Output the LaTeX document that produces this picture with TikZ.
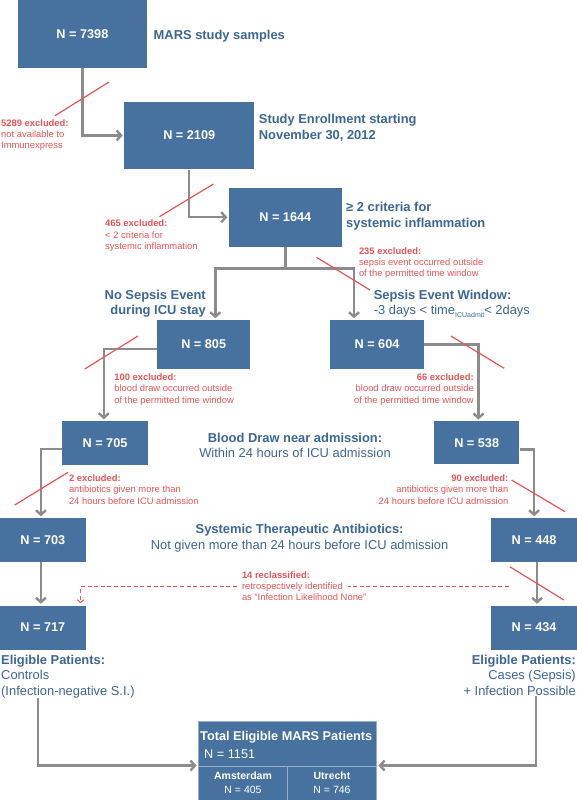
\documentclass[tikz,border=0pt]{standalone}
\usepackage{fontspec}
\setmainfont{Liberation Sans}
\usetikzlibrary{arrows.meta,calc}
\definecolor{boxblue}{RGB}{71,114,160}
\definecolor{txtblue}{RGB}{60,102,150}
\definecolor{exred}{RGB}{234,84,86}
\definecolor{lnGray}{RGB}{140,140,140}
\definecolor{edgeblue}{RGB}{150,175,205}
\begin{document}
\begin{tikzpicture}[x=1pt,y=-1pt,
  box/.style={fill=boxblue, text=white,
    font=\fontsize{12.7}{14}\selectfont\bfseries, inner sep=0pt, anchor=center},
  cell/.style={fill=boxblue, draw=edgeblue, line width=0.9pt, text=white, inner sep=0pt, anchor=center},
  arr/.style={draw=lnGray, line width=2.4pt, -{Straight Barb[length=4.5pt,width=10pt]}, shorten >=1.5pt},
  plainln/.style={draw=lnGray, line width=2.4pt},
  exnote/.style={text=exred, font=\fontsize{9.4}{11.3}\selectfont, inner sep=0pt},
  lbl/.style={text=txtblue, font=\fontsize{12.9}{15.7}\selectfont, inner sep=0pt},
  lblb/.style={text=txtblue, font=\fontsize{12.9}{15.7}\selectfont\bfseries, inner sep=0pt},
  slash/.style={draw=exred, line width=1.2pt},
  dashln/.style={draw=exred, line width=1pt, dash pattern=on 4pt off 2.6pt}
]
\useasboundingbox (0,0) rectangle (577,800);

% boxes
\node[box, minimum width=129.8pt, minimum height=67.7pt] (b7398) at (82.4,33.8) {N = 7398};
\node[box, minimum width=129.6pt, minimum height=67.6pt] (b2109) at (189.2,135.5) {N = 2109};
\node[box, minimum width=112.5pt, minimum height=59pt] (b1644) at (285.3,217.2) {N = 1644};
\node[box, minimum width=93pt, minimum height=49pt] (b805) at (203.7,344.5) {N = 805};
\node[box, minimum width=94pt, minimum height=49pt] (b604) at (377,344.5) {N = 604};
\node[box, minimum width=86.5pt, minimum height=44pt] (b705) at (105,443) {N = 705};
\node[box, minimum width=85.3pt, minimum height=43pt] (b538) at (476.7,442.8) {N = 538};
\node[box, minimum width=85.8pt, minimum height=44pt] (b703) at (42.9,540) {N = 703};
\node[box, minimum width=85.8pt, minimum height=44pt] (b448) at (534.1,540) {N = 448};
\node[box, minimum width=85.8pt, minimum height=44pt] (b717) at (42.9,627.5) {N = 717};
\node[box, minimum width=85.8pt, minimum height=44pt] (b434) at (534.1,627.5) {N = 434};

% total box
\node[cell, minimum width=178pt, minimum height=45pt] (totTop) at (287.5,743.5) {};
\node[cell, minimum width=89pt, minimum height=34pt, align=center,
  font=\fontsize{10.5}{14.3}\selectfont] (cellA) at (243,783) {\textbf{Amsterdam}\\N = 405};
\node[cell, minimum width=89pt, minimum height=34pt, align=center,
  font=\fontsize{10.5}{14.3}\selectfont] (cellU) at (332,783) {\textbf{Utrecht}\\N = 746};
\node[text=white, inner sep=0pt, anchor=base west, font=\fontsize{12.7}{15}\selectfont\bfseries] (totT) at (200,740.4) {Total Eligible MARS Patients};
\node[text=white, inner sep=0pt, anchor=base west, font=\fontsize{12.7}{15}\selectfont] (totN) at (204,758) {N = 1151};

% blue labels
\node[lblb, anchor=base west] (lMARS) at (153.5,39.7) {MARS study samples};
\node[lblb, anchor=north west, align=left] (lEnroll) at (258.7,114.2) {Study Enrollment starting\\November 30, 2012};
\node[lblb, anchor=north west, align=left] (lCrit) at (346,201.9) {≥ 2 criteria for\\systemic inflammation};
\node[lblb, anchor=north east, align=right] (lNoSep) at (206,289.5) {No Sepsis Event\\during ICU stay};
\node[lbl, anchor=north west, align=left] (lSepWin) at (373.6,289.5) {\textbf{Sepsis Event Window:}\\-3 days < time\raisebox{-2.6pt}{\fontsize{7}{7}\selectfont ICUadmit}< 2days};
\node[lbl, anchor=north, align=center] (lBlood) at (295,432.5) {\textbf{Blood Draw near admission:}\\Within 24 hours of ICU admission};
\node[lbl, anchor=north, align=center] (lSysAb) at (299.6,524.2) {\textbf{Systemic Therapeutic Antibiotics:}\\Not given more than 24 hours before ICU admission};
\node[lbl, anchor=north west, align=left] (eligL) at (1,654.5) {\textbf{Eligible Patients:}\\Controls\\(Infection-negative S.I.)};
\node[lbl, anchor=north east, align=right] (eligR) at (576,654.5) {\textbf{Eligible Patients:}\\Cases (Sepsis)\\+ Infection Possible};

% red notes
\node[exnote, anchor=north west, align=left] (ex5289) at (1,119.2) {\textbf{5289 excluded:}\\not available to\\Immunexpress};
\node[exnote, anchor=north west, align=left] (ex465) at (105,219.8) {\textbf{465 excluded:}\\< 2 criteria for\\systemic inflammation};
\node[exnote, anchor=north west, align=left] (ex235) at (358.8,247.2) {\textbf{235 excluded:}\\sepsis event occurred outside\\of the permitted time window};
\node[exnote, anchor=north west, align=left] (ex100) at (114.1,373.5) {\textbf{100 excluded:}\\blood draw occurred outside\\of the permitted time window};
\node[exnote, anchor=north east, align=right] (ex66) at (474,373.5) {\textbf{66 excluded:}\\blood draw occurred outside\\of the permitted time window};
\node[exnote, anchor=north west, align=left] (ex2) at (68.8,474.5) {\textbf{2 excluded:}\\antibiotics given more than\\24 hours before ICU admission};
\node[exnote, anchor=north east, align=right] (ex90) at (508.5,474.5) {\textbf{90 excluded:}\\antibiotics given more than\\24 hours before ICU admission};
\node[exnote, anchor=north west, align=left] (re14) at (241.8,571.2) {\textbf{14 reclassified:}\\retrospectively identified\\as “Infection Likelihood None”};

% connectors
\draw[arr] (b7398.south) |- (b2109.west);
\draw[arr] (b2109.south) |- (b1644.west);
\coordinate (split) at ($(b1644.south)+(0,21.6)$);
\draw[plainln] (b1644.south) -- (split);
\draw[arr] (split) -| ($(b805.north)+(11.6,0)$);
\draw[arr] (split) -| ($(b604.north)+(-23,0)$);
\draw[arr] ($(b805.west)+(0,4.5)$) -| ($(b705.north)+(-1.2,0)$);
\draw[arr] (b604.east) -| ($(b538.north)+(1.8,0)$);
\draw[arr] ($(b705.west)+(0,6)$) -| ($(b703.north)+(-2,0)$);
\draw[arr] ($(b538.east)+(0,6.5)$) -| (b448.north);
\draw[arr] ($(b703.south)+(-2,0)$) -- ($(b717.north)+(-2,0)$);
\draw[arr] ($(b448.south)+(3,0)$) -- ($(b434.north)+(3,0)$);
\draw[arr] ($(eligL.south west)+(37,0)$) |- (cellA.north west);
\draw[arr] ($(eligR.south east)+(-40,0)$) |- (cellU.north east);

% dashed reclassification
\coordinate (dR) at (509,586.7);
\coordinate (dM) at (347.5,586.7);
\draw[dashln] (dR) -- (dM);
\draw[dashln, -{Straight Barb[length=3pt,width=6.5pt]}, shorten >=2pt] ($(re14.west |- dR)+(-5,0)$) -| ($(b717.north)+(37.7,0)$);

% exclusion slashes
\draw[slash] (55,115.7) -- (109,82);
\draw[slash] (159.4,216.7) -- (213.5,184);
\draw[slash] (316.5,257.3) -- (369.9,290);
\draw[slash] (84.7,369) -- (138,336);
\draw[slash] (450.9,336) -- (504.2,368.3);
\draw[slash] (14.7,505) -- (68,472.3);
\draw[slash] (511.6,480) -- (565,511.7);
\draw[slash] (509.8,566.7) -- (563.9,600);
\end{tikzpicture}
\end{document}
